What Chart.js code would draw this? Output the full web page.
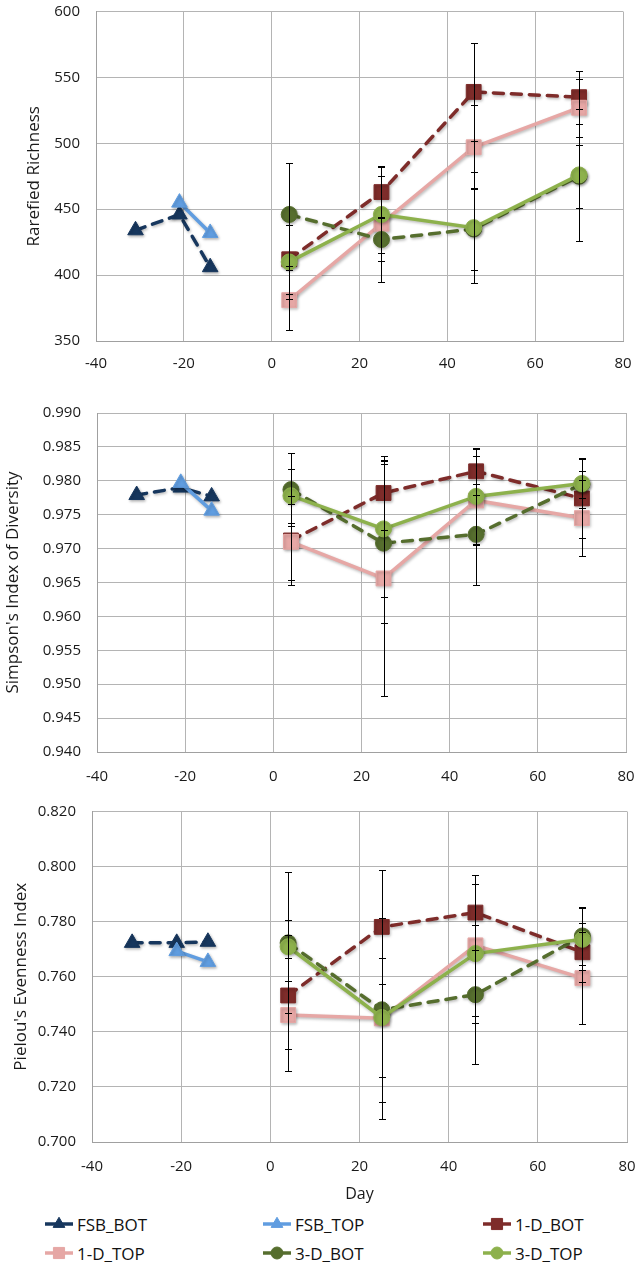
<!DOCTYPE html>
<html>
<head>
<meta charset="utf-8">
<script src="https://cdn.jsdelivr.net/npm/chart.js@4/dist/chart.umd.min.js"></script>
<style>
  body { margin: 0; background: #fff; width: 640px; height: 1267px; position: relative; overflow: hidden; font-family: "Open Sans", sans-serif; }
  .panel { position: absolute; left: 0; width: 640px; }
  .item { position: absolute; height: 24px; display: flex; align-items: center; font-size: 17px; color: #111; }
  .item canvas { margin-right: 3px; }
</style>
</head>
<body>
<div class="panel" style="top:0;height:380px"><canvas id="richness"></canvas></div>
<div class="panel" style="top:400px;height:390px"><canvas id="simpson"></canvas></div>
<div class="panel" style="top:800px;height:410px"><canvas id="pielou"></canvas></div>
<div id="legend"></div>
<script>
// sampling days
const fsbBotDays = [-31, -21, -14];
const fsbTopDays = [-21, -14];
const trtDays = [4, 25, 46, 70];
const xTicks = [-40, -20, 0, 20, 40, 60, 80];
const seriesNames = ['FSB_BOT', 'FSB_TOP', '1-D_BOT', '1-D_TOP', '3-D_BOT', '3-D_TOP'];

// rarefied richness
const richFsbBot = [434, 446, 406];
const richFsbTop = [455, 432];
const rich1DBot = [412, 463, 539, 535];
const rich1DTop = [381, 439, 497, 527];
const rich3DBot = [446, 427, 435, 475];
const rich3DTop = [410, 446, 436, 476];
const richErr1DBot = [26, 19, 37, 20];
const richErr1DTop = [23, 44, 32, 22];
const richErr3DBot = [39, 16, 31, 24];
const richErr3DTop = [28, 29, 42, 50];
const richTicks = [350, 400, 450, 500, 550, 600];

// simpson's index
const simpFsbBot = [0.9779, 0.9790, 0.9777];
const simpFsbTop = [0.9797, 0.9756];
const simp1DBot = [0.9712, 0.9782, 0.9814, 0.9774];
const simp1DTop = [0.9710, 0.9656, 0.9771, 0.9745];
const simp3DBot = [0.9787, 0.9708, 0.9721, 0.9795];
const simp3DTop = [0.9778, 0.9729, 0.9777, 0.9796];
const simpErr1DBot = [0.0066, 0.0054, 0.0035, 0.0059];
const simpErr1DTop = [0.0056, 0.0174, 0.0066, 0.0056];
const simpErr3DBot = [0.0054, 0.0117, 0.0075, 0.0020];
const simpErr3DTop = [0.0040, 0.0100, 0.0070, 0.0036];
const simpTicks = [0.940, 0.945, 0.950, 0.955, 0.960, 0.965, 0.970, 0.975, 0.980, 0.985, 0.990];

// pielou's evenness
const pielFsbBot = [0.7723, 0.7723, 0.7727];
const pielFsbTop = [0.7693, 0.7654];
const piel1DBot = [0.7532, 0.7781, 0.7833, 0.7689];
const piel1DTop = [0.7461, 0.7449, 0.7714, 0.7595];
const piel3DBot = [0.7723, 0.7480, 0.7535, 0.7748];
const piel3DTop = [0.7709, 0.7452, 0.7684, 0.7736];
const pielErr1DBot = [0.0274, 0.0208, 0.0137, 0.0107];
const pielErr1DTop = [0.0122, 0.0366, 0.0256, 0.0166];
const pielErr3DBot = [0.0256, 0.0333, 0.0253, 0.0104];
const pielErr3DTop = [0.0042, 0.0216, 0.0253, 0.0113];
const pielTicks = [0.700, 0.720, 0.740, 0.760, 0.780, 0.800, 0.820];

const styles = [
  { color: '#17375e', shape: 'triangle', r: 9, dash: [10, 8] },
  { color: '#609de0', shape: 'triangle', r: 9, dash: [] },
  { color: '#7e2c2a', shape: 'rect', r: 10.5, dash: [10, 8] },
  { color: '#e6a7a5', shape: 'rect', r: 10.5, dash: [] },
  { color: '#566e2e', shape: 'circle', r: 8, dash: [10, 8] },
  { color: '#8db14c', shape: 'circle', r: 8, dash: [] }
];

Chart.defaults.font.family = '"Open Sans", sans-serif';
Chart.defaults.color = '#1a1a1a';

const pts = (xs, ys) => xs.map((x, i) => ({ x: x, y: ys[i] }));

function makeSets(values, errs) {
  const days = [fsbBotDays, fsbTopDays, trtDays, trtDays, trtDays, trtDays];
  return values.map((v, i) => ({
    label: seriesNames[i],
    data: pts(days[i], v),
    err: errs[i],
    order: 5 - i,
    borderColor: styles[i].color,
    backgroundColor: styles[i].color,
    borderWidth: 3.5,
    borderDash: styles[i].dash,
    borderCapStyle: 'round',
    pointStyle: styles[i].shape,
    pointRadius: styles[i].r,
    pointBorderWidth: 1,
    pointBackgroundColor: styles[i].color,
    pointBorderColor: styles[i].color
  }));
}

const shadowAndErrors = {
  id: 'shadowAndErrors',
  beforeDatasetsDraw(chart) {
    const ctx = chart.ctx;
    ctx.save();
    ctx.shadowColor = 'rgba(0,0,0,0.28)';
    ctx.shadowBlur = 3;
    ctx.shadowOffsetX = 1;
    ctx.shadowOffsetY = 1.5;
  },
  afterDatasetsDraw(chart) {
    const ctx = chart.ctx;
    ctx.restore();
    const x = chart.scales.x, y = chart.scales.y;
    ctx.save();
    ctx.strokeStyle = '#000';
    ctx.lineWidth = 1;
    chart.data.datasets.forEach(ds => {
      if (!ds.err) return;
      ds.data.forEach((p, j) => {
        const px = Math.round(x.getPixelForValue(p.x)) + 0.5;
        const t = Math.round(y.getPixelForValue(p.y + ds.err[j])) + 0.5;
        const b = Math.round(y.getPixelForValue(p.y - ds.err[j])) + 0.5;
        ctx.beginPath();
        ctx.moveTo(px, t); ctx.lineTo(px, b);
        ctx.moveTo(px - 3.5, t); ctx.lineTo(px + 3.5, t);
        ctx.moveTo(px - 3.5, b); ctx.lineTo(px + 3.5, b);
        ctx.stroke();
      });
    });
    ctx.restore();
  }
};

function panel(id, sets, yTicks, decimals, yTitle, g) {
  new Chart(document.getElementById(id), {
    type: 'line',
    data: { datasets: sets },
    plugins: [shadowAndErrors],
    options: {
      responsive: true,
      maintainAspectRatio: false,
      animation: false,
      layout: { padding: { top: g.top, right: g.right, bottom: g.bottom, left: 0 } },
      plugins: { legend: { display: false }, tooltip: { enabled: false } },
      scales: {
        x: {
          type: 'linear',
          min: xTicks[0], max: xTicks[xTicks.length - 1],
          afterBuildTicks: s => { s.ticks = xTicks.map(v => ({ value: v })); },
          afterFit: s => { s.height = g.xh; s.paddingLeft = 0; s.paddingRight = 0; },
          grid: { color: '#b4b4b4', drawTicks: false },
          border: { color: '#a0a0a0' },
          ticks: { font: { size: 15 }, padding: g.xpad, maxRotation: 0 },
          title: { display: !!g.xTitle, text: g.xTitle || '', font: { size: 16 }, padding: { top: 0, bottom: 0 } }
        },
        y: {
          min: yTicks[0], max: yTicks[yTicks.length - 1],
          afterBuildTicks: s => { s.ticks = yTicks.map(v => ({ value: v })); },
          afterFit: s => { s.width = g.left; s.paddingTop = 0; s.paddingBottom = 0; },
          grid: { color: '#b4b4b4', drawTicks: false },
          border: { color: '#a0a0a0' },
          ticks: { font: { size: 15 }, padding: 16, callback: v => Number(v).toFixed(decimals) },
          title: { display: true, text: yTitle, font: { size: 17 }, padding: { top: g.tpad, bottom: 0 } }
        }
      }
    }
  });
}

panel('richness',
  makeSets([richFsbBot, richFsbTop, rich1DBot, rich1DTop, rich3DBot, rich3DTop],
           [null, null, richErr1DBot, richErr1DTop, richErr3DBot, richErr3DTop]),
  richTicks, 0, 'Rarefied Richness',
  { top: 9, right: 17, bottom: 7, left: 96, xh: 32, xpad: 14, tpad: 24 });

panel('simpson',
  makeSets([simpFsbBot, simpFsbTop, simp1DBot, simp1DTop, simp3DBot, simp3DTop],
           [null, null, simpErr1DBot, simpErr1DTop, simpErr3DBot, simpErr3DTop]),
  simpTicks, 3, "Simpson's Index of Diversity",
  { top: 13, right: 14, bottom: 4, left: 97, xh: 34, xpad: 16, tpad: 3 });

panel('pielou',
  makeSets([pielFsbBot, pielFsbTop, piel1DBot, piel1DTop, piel3DBot, piel3DTop],
           [null, null, pielErr1DBot, pielErr1DTop, pielErr3DBot, pielErr3DTop]),
  pielTicks, 3, "Pielou's Evenness Index",
  { top: 11, right: 13, bottom: 6, left: 92, xh: 62, xpad: 16, tpad: 11, xTitle: 'Day' });

// legend
const legendCols = [44, 262, 482];
const legendRows = [1212, 1241];
const legend = document.getElementById('legend');
seriesNames.forEach((name, i) => {
  const item = document.createElement('div');
  item.className = 'item';
  item.style.left = legendCols[i % 3] + 'px';
  item.style.top = legendRows[Math.floor(i / 3)] + 'px';
  const c = document.createElement('canvas');
  c.width = 30; c.height = 20;
  const ctx = c.getContext('2d');
  ctx.strokeStyle = styles[i].color;
  ctx.lineWidth = 3.5;
  ctx.beginPath(); ctx.moveTo(1, 10); ctx.lineTo(29, 10); ctx.stroke();
  ctx.fillStyle = styles[i].color;
  ctx.strokeStyle = styles[i].color;
  ctx.lineWidth = 1;
  Chart.helpers.drawPoint(ctx, { pointStyle: styles[i].shape, radius: styles[i].r * 0.75, borderWidth: 1 }, 15, 10);
  item.appendChild(c);
  const t = document.createElement('span');
  t.textContent = name;
  item.appendChild(t);
  legend.appendChild(item);
});
</script>
</body>
</html>
